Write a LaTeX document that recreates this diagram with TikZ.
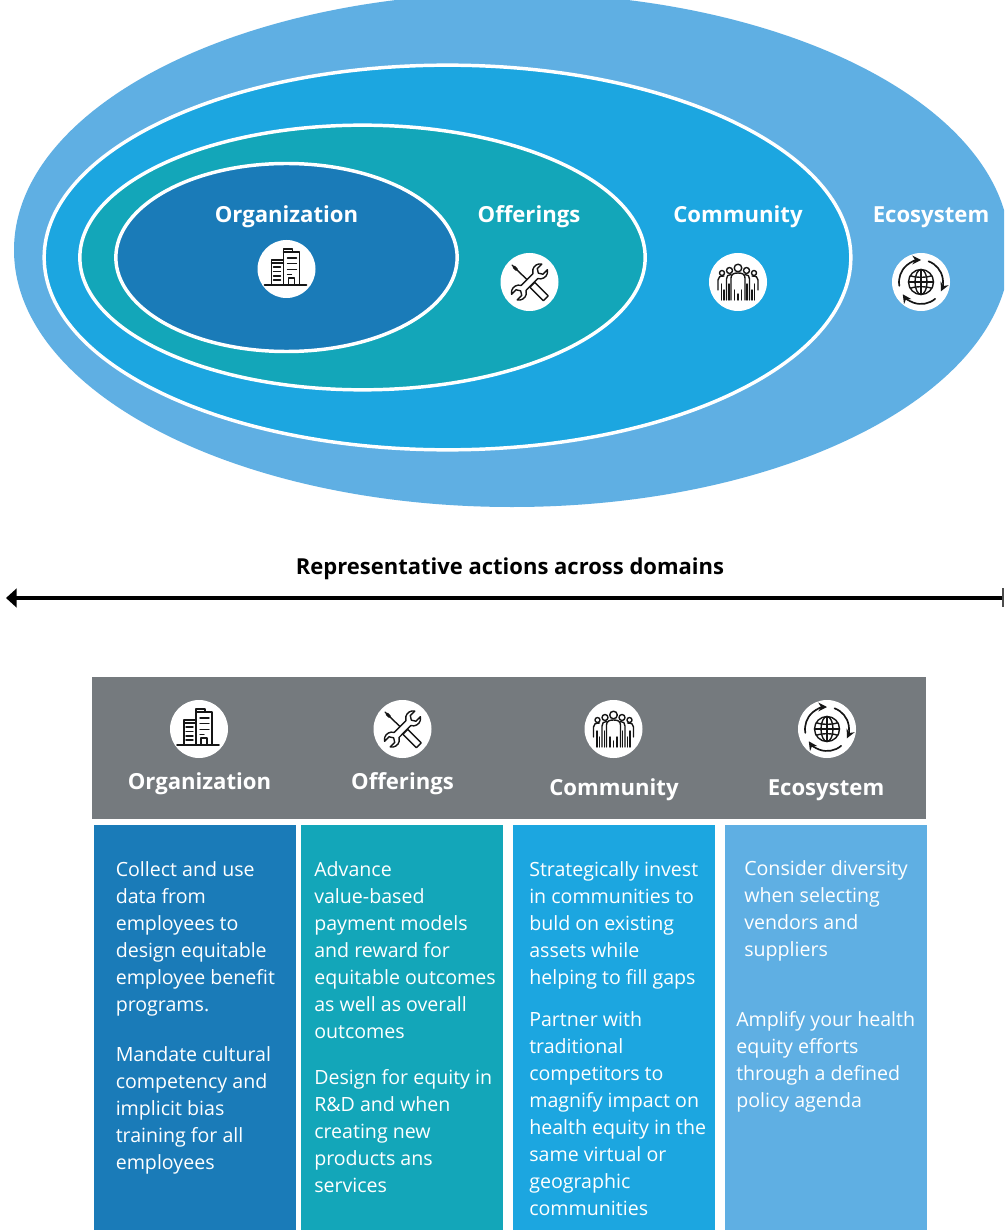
\documentclass[tikz,border=0pt]{standalone}
\usepackage{fontspec}
\setmainfont{Open Sans}
\usetikzlibrary{shapes.geometric,arrows.meta}
\definecolor{cEco}{HTML}{5FAFE3}
\definecolor{cCom}{HTML}{1CA6E0}
\definecolor{cOff}{HTML}{13A6B9}
\definecolor{cOrg}{HTML}{1A7BB8}
\definecolor{cGray}{HTML}{757A7E}
\definecolor{cInk}{HTML}{151515}
\tikzset{
  x=0.75pt,y=-0.75pt,
  blobshape/.style={ellipse,inner sep=0pt,outer sep=0pt},
  ringshape/.style={blobshape,draw=white,line width=2.6pt},
  headtext/.style={text=white,anchor=base,inner sep=0pt,font=\fontsize{16.6}{20}\selectfont\bfseries},
  iconcircle/.style={circle,fill=white,minimum size=43.5pt,inner sep=0pt},
  colbox/.style={anchor=north west,inner sep=0pt,minimum width=151.6pt,minimum height=304pt},
  paratext/.style={anchor=north west,inner sep=0pt,align=left,text=white,font=\fontsize{14.7}{20.25}\selectfont},
  inkline/.style={draw=cInk,line width=1.05pt,line cap=round,line join=round},
  iconbuilding/.pic={
    \draw[inkline,line width=1.3pt] (-22,16)--(20,16);
    \draw[inkline] (-3,16)--(-3,-20)--(6,-20)--(6,-17)--(13,-17)--(13,16);
    \draw[inkline] (-3,-17)--(6,-17);
    \draw[inkline] (-3,-9)--(-15,-9)--(-15,16);
    \draw[inkline] (-15,-6)--(-3,-6);
    \draw[inkline] (2,16)--(2,9)--(8,9)--(8,16);
    \foreach \yy in {-11,-5.5,0.5}{\draw[inkline] (1,\yy)--(10,\yy);}
    \draw[inkline] (1,5.5)--(5,5.5);
    \foreach \yy in {-2,2.5,7,11}{\draw[inkline] (-13,\yy)--(-6,\yy);}
  },
  icontools/.pic={
    \draw[inkline] (-17.5,-17)--(-14,-13.5);
    \draw[inkline,line width=2.2pt] (-15.5,-15)--(-13,-12.5);
    \draw[inkline] (-13,-12.5)--(-1,-1);
    \draw[inkline,fill=white,rotate=45] (-3.5,4)--(3.5,4)--(3.5,23)--(-3.5,23)--cycle;
    \draw[inkline,fill=white,rotate=45]
      (8.37,3.5) arc[start angle=152.2,end angle=32,radius=7.5]
      -- (15,4) -- (12.5,0) -- (15,-4) -- (21.36,-4)
      arc[start angle=-32,end angle=-152.2,radius=7.5]
      -- (-8.37,-3.5) arc[start angle=-27.8,end angle=-148,radius=7.5]
      -- (-15,-4) -- (-12.5,0) -- (-15,4) -- (-21.36,4)
      arc[start angle=148,end angle=27.8,radius=7.5] -- cycle;
  },
  iconpeople/.pic={
    \draw[inkline] (0,-14) circle (3.8);
    \draw[inkline] (-8.5,-11.5) circle (3);
    \draw[inkline] (8.5,-11.5) circle (3);
    \draw[inkline] (-16,-9) circle (2.5);
    \draw[inkline] (16,-9) circle (2.5);
    \draw[inkline] (-7,18)--(-7,-4) .. controls (-7,-8) and (-4,-9) .. (0,-9) .. controls (4,-9) and (7,-8) .. (7,-4)--(7,18);
    \draw[inkline] (-11.5,18)--(-11.5,-3) .. controls (-11.5,-6) and (-10,-7.5) .. (-7,-7.5);
    \draw[inkline] (11.5,18)--(11.5,-3) .. controls (11.5,-6) and (10,-7.5) .. (7,-7.5);
    \draw[inkline] (-20,8)--(-20,-2) .. controls (-20,-5) and (-18,-6) .. (-14,-6);
    \draw[inkline] (20,8)--(20,-2) .. controls (20,-5) and (18,-6) .. (14,-6);
    \foreach \xx/\yy in {-16.5/2,16.5/2,-14/8,14/8,-9/2,9/2,-3.5/8,3.5/8,0/12}{\draw[inkline] (\xx,\yy)--(\xx,18);}
  },
  iconglobe/.pic={
    \draw[inkline] (0,0) circle (12.5);
    \draw[inkline] (0,-12.5)--(0,12.5);
    \draw[inkline] (-12.5,0)--(12.5,0);
    \draw[inkline] (0,0) ellipse (6 and 12.5);
    \draw[inkline] (-10.8,-6.3) .. controls (-5,-4.2) and (5,-4.2) .. (10.8,-6.3);
    \draw[inkline] (-10.8,6.3) .. controls (-5,4.2) and (5,4.2) .. (10.8,6.3);
    \foreach \bb/\aa in {-70/25,50/146,170/270}{
      \draw[inkline,line width=1.25pt,-{Stealth[length=6.5pt,width=6.5pt]}] (\bb:22) arc[start angle=\bb,end angle=\aa,radius=22];
    }
  },
}
\begin{document}
\begin{tikzpicture}
\useasboundingbox (0,0) rectangle (1004,1230);
\fill[white] (0,0) rectangle (1004,1230);
\clip (0,0) rectangle (1004,1230);
% nested domains
\node[blobshape,fill=cEco,minimum width=747pt,minimum height=385.5pt] (ecoE) at (512,250) {};
\node[ringshape,fill=cCom,minimum width=605pt,minimum height=288.5pt] (comE) at (447.5,257.5) {};
\node[ringshape,fill=cOff,minimum width=424pt,minimum height=198.5pt] (offE) at (362.5,257.5) {};
\node[ringshape,fill=cOrg,minimum width=256pt,minimum height=141pt] (orgE) at (286.5,257.5) {};
% domain labels
\node[headtext] (orgL) at (286.5,223) {Organization};
\node[headtext] (offL) at (529,223) {Offerings};
\node[headtext] (comL) at (738,223) {Community};
\node[headtext] (ecoL) at (931,223) {Ecosystem};
% domain icons
\node[iconcircle] (orgI) at (286.5,269) {};
\node[iconcircle] (offI) at (529.5,282) {};
\node[iconcircle] (comI) at (738,282) {};
\node[iconcircle] (ecoI) at (921,282) {};
\pic at (orgI) {iconbuilding};
\pic at (offI) {icontools};
\pic at (comI) {iconpeople};
\pic at (ecoI) {iconglobe};
% axis
\node[anchor=base,inner sep=0pt,font=\fontsize{16.5}{20}\selectfont\bfseries,text=black] (axisL) at (510,574) {Representative actions across domains};
\coordinate (axisA) at (1003,598);
\coordinate (axisB) at (6,598);
\draw[black,line width=2.3pt,-{Triangle[length=8pt,width=14pt]}] (axisA) -- (axisB);
\draw[black!70,line width=0.8pt] (1003,588) -- (1003,607);
% table header
\node[anchor=north west,inner sep=0pt,fill=cGray,minimum width=625.5pt,minimum height=106pt] (hdr) at (92,677) {};
\node[iconcircle] (orgH) at (199,729) {};
\node[iconcircle] (offH) at (402.5,729) {};
\node[iconcircle] (comH) at (613.5,729) {};
\node[iconcircle] (ecoH) at (827,729) {};
\pic at (orgH) {iconbuilding};
\pic at (offH) {icontools};
\pic at (comH) {iconpeople};
\pic at (ecoH) {iconglobe};
\node[headtext] (orgT) at (199.5,789) {Organization};
\node[headtext] (offT) at (402.5,789) {Offerings};
\node[headtext] (comT) at (614,795) {Community};
\node[headtext] (ecoT) at (826,795) {Ecosystem};
% columns
\node[colbox,fill=cOrg] (orgC) at (94,825) {};
\node[colbox,fill=cOff] (offC) at (301,825) {};
\node[colbox,fill=cCom] (comC) at (513,825) {};
\node[colbox,fill=cEco] (ecoC) at (725,825) {};
\node[paratext] (p1) at (115.5,861) {Collect and use\\data from\\employees to\\design equitable\\employee benefit\\programs.};
\node[paratext] (p2) at (115.5,1046) {Mandate cultural\\competency and\\implicit bias\\training for all\\employees};
\node[paratext] (p3) at (314,861) {Advance\\value-based\\payment models\\and reward for\\equitable outcomes\\as well as overall\\outcomes};
\node[paratext] (p4) at (314,1069) {Design for equity in\\R\&D and when\\creating new\\products ans\\services};
\node[paratext] (p5) at (529,861) {Strategically invest\\in communities to\\buld on existing\\assets while\\helping to fill gaps};
\node[paratext] (p6) at (529,1011) {Partner with\\traditional\\competitors to\\magnify impact on\\health equity in the\\same virtual or\\geographic\\communities};
\node[paratext] (p7) at (744,860) {Consider diversity\\when selecting\\vendors and\\suppliers};
\node[paratext] (p8) at (736,1011) {Amplify your health\\equity efforts\\through a defined\\policy agenda};
\end{tikzpicture}
\end{document}
